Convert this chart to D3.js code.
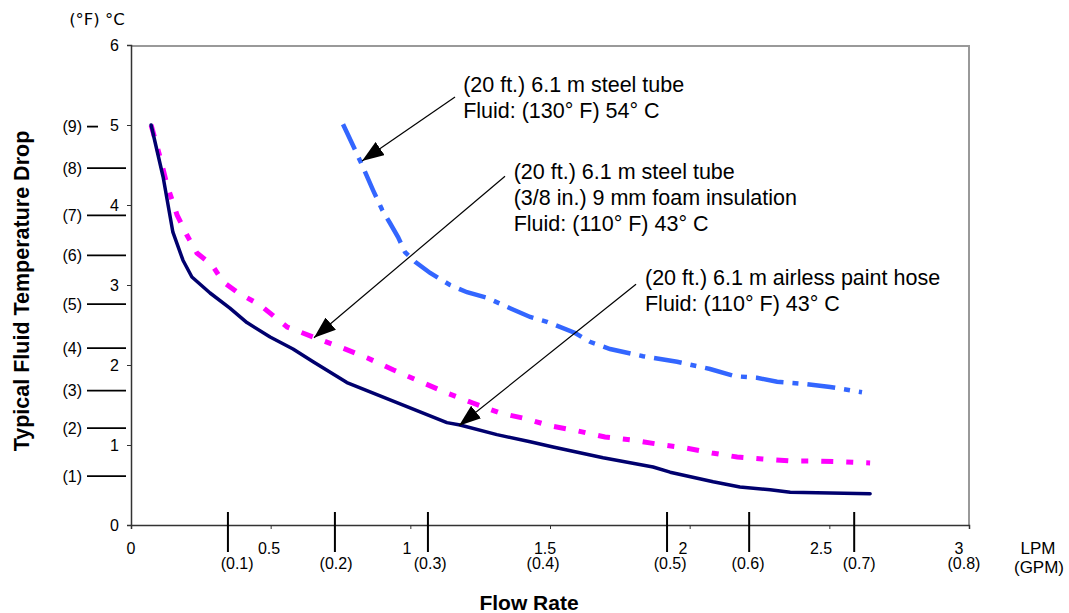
<!DOCTYPE html>
<html>
<head>
<meta charset="utf-8">
<script src="https://cdn.jsdelivr.net/npm/d3@7"></script>
<style>
  body { margin: 0; background: #fff; }
  text { fill: #000; }
  .tk { font-family: "Liberation Sans", Arial, sans-serif; font-size: 16px; }
</style>
</head>
<body>
<svg id="chart" width="1069" height="613"></svg>
<script>
// LPM flow rate vs temperature drop (deg C)
var hoseX = [0.072, 0.115, 0.150, 0.186, 0.218, 0.283, 0.354, 0.415, 0.498, 0.58, 0.652, 0.773, 0.952, 1.131, 1.178, 1.310, 1.429, 1.511, 1.690, 1.869, 1.930, 2.084, 2.18, 2.288, 2.36, 2.646];
var hoseY = [5.0, 4.35, 3.66, 3.31, 3.10, 2.90, 2.71, 2.53, 2.35, 2.20, 2.04, 1.78, 1.53, 1.28, 1.25, 1.13, 1.04, 0.975, 0.84, 0.725, 0.66, 0.54, 0.475, 0.44, 0.41, 0.39];

var foamX = [0.072, 0.104, 0.129, 0.165, 0.2, 0.236, 0.29, 0.33, 0.38, 0.462, 0.559, 0.652, 0.759, 0.845, 0.938, 1.024, 1.131, 1.224, 1.321, 1.418, 1.5, 1.6, 1.697, 1.797, 1.887, 1.991, 2.08, 2.17, 2.26, 2.36, 2.456, 2.549, 2.646];
var foamY = [5.0, 4.6, 4.25, 3.875, 3.625, 3.4, 3.25, 3.04, 2.91, 2.75, 2.475, 2.35, 2.21, 2.09, 1.94, 1.81, 1.65, 1.525, 1.40, 1.325, 1.24, 1.175, 1.10, 1.06, 1.01, 0.96, 0.90, 0.85, 0.825, 0.80, 0.80, 0.79, 0.775];

var steelX = [0.759, 0.802, 0.827, 0.866, 0.899, 0.927, 0.956, 0.981, 1.017, 1.071, 1.142, 1.203, 1.275, 1.357, 1.429, 1.489, 1.59, 1.643, 1.715, 1.833, 1.955, 2.073, 2.163, 2.241, 2.313, 2.42, 2.503, 2.617];
var steelY = [5.01, 4.69, 4.5, 4.19, 3.94, 3.775, 3.6, 3.41, 3.29, 3.15, 3.0, 2.91, 2.84, 2.71, 2.6, 2.54, 2.40, 2.29, 2.2, 2.11, 2.04, 1.95, 1.86, 1.84, 1.79, 1.76, 1.725, 1.66];

// axis ticks
var lpmTicks = [0, 0.5, 1, 1.5, 2, 2.5, 3];
var lpmLabels = ["0", "0.5", "1", "1.5", "2", "2.5", "3"];
var cTicks = [0, 1, 2, 3, 4, 5, 6];
var gpmLabels = ["(0.1)", "(0.2)", "(0.3)", "(0.4)", "(0.5)", "(0.6)", "(0.7)", "(0.8)"];
var gpmLabelAt = [0.38, 0.734, 1.071, 1.475, 1.93, 2.209, 2.607, 2.982];
var gpmTickAt = [0.347, 0.730, 1.063, 1.919, 2.213, 2.589];
var fLabels = ["(1)", "(2)", "(3)", "(4)", "(5)", "(6)", "(7)", "(8)", "(9)"];
var fTickC = [0.61, 1.21, 1.68, 2.21, 2.76, 3.37, 3.87, 4.46, 4.98];

// callouts
var noteLines = [
  ["(20 ft.) 6.1 m steel tube", "Fluid: (130\u00b0 F) 54\u00b0 C"],
  ["(20 ft.) 6.1 m steel tube", "(3/8 in.) 9 mm foam insulation", "Fluid: (110\u00b0 F) 43\u00b0 C"],
  ["(20 ft.) 6.1 m airless paint hose", "Fluid: (110\u00b0 F) 43\u00b0 C"]
];
var noteTextAt = [[1.189, 5.41], [1.37, 4.325], [1.84, 3.0]];
var noteFrom = [[1.16, 5.35], [1.339, 4.36], [1.808, 3.01]];
var noteTo = [[0.827, 4.55], [0.655, 2.34], [1.174, 1.24]];

var svg = d3.select("#chart");

var x = d3.scaleLinear().domain([0, 3]).range([131, 969]);
var y = d3.scaleLinear().domain([0, 6]).range([525, 45]);
// the printed LPM numbers sit a little left of their ticks
var xLabel = d3.scaleLinear().domain([0, 3]).range([131, 959]);

var textFont = "Liberation Sans, Arial, Helvetica, sans-serif";

// frame: grey top and right, dark axes
svg.append("line").attr("x1", x(0)).attr("x2", x(3)).attr("y1", y(6) + 1).attr("y2", y(6) + 1)
  .attr("stroke", "#999").attr("stroke-width", 2);
svg.append("line").attr("x1", x(3)).attr("x2", x(3)).attr("y1", y(6)).attr("y2", y(0))
  .attr("stroke", "#999").attr("stroke-width", 2);

var yAxis = d3.axisLeft(y).tickValues(cTicks).tickSize(4).tickFormat(d3.format("d"));
var yg = svg.append("g").attr("transform", "translate(" + x(0) + ",0)").call(yAxis);
yg.attr("font-family", null).attr("font-size", null);
yg.select(".domain").attr("stroke", "#333").attr("stroke-width", 1.5);
yg.selectAll(".tick line").attr("stroke", "#333");
yg.selectAll(".tick text").attr("class", "tk").attr("x", -12);

var xAxis = d3.axisBottom(x).tickValues(lpmTicks).tickSize(4).tickFormat("");
var xg = svg.append("g").attr("transform", "translate(0," + y(0) + ")").call(xAxis);
xg.select(".domain").attr("stroke", "#333").attr("stroke-width", 1.5);
xg.selectAll(".tick line").attr("stroke", "#333");

svg.selectAll(".lpmLabel").data(lpmTicks).enter().append("text")
  .attr("class", "tk")
  .attr("x", function(d) { return xLabel(d); })
  .attr("y", 554)
  .attr("text-anchor", "middle")
  .text(function(d, i) { return lpmLabels[i]; });

// GPM second scale
svg.selectAll(".gpmTick").data(gpmTickAt).enter().append("line")
  .attr("class", "gpmTick")
  .attr("x1", function(d) { return x(d); }).attr("x2", function(d) { return x(d); })
  .attr("y1", 512).attr("y2", 552)
  .attr("stroke", "#000").attr("stroke-width", 2);

svg.selectAll(".gpmLabel").data(gpmLabelAt).enter().append("text")
  .attr("class", "tk")
  .attr("x", function(d) { return x(d); })
  .attr("y", 569)
  .attr("text-anchor", "middle")
  .text(function(d, i) { return gpmLabels[i]; });

// Fahrenheit scale on the left
svg.selectAll(".fTick").data(fTickC).enter().append("line")
  .attr("class", "fTick")
  .attr("x1", 87)
  .attr("x2", function(d, i) { return i == 8 ? 98 : 126; })
  .attr("y1", function(d) { return y(d); }).attr("y2", function(d) { return y(d); })
  .attr("stroke", "#000").attr("stroke-width", 1.8);

svg.selectAll(".fLabel").data(fTickC).enter().append("text")
  .attr("class", "tk")
  .attr("x", 82)
  .attr("y", function(d) { return y(d); })
  .attr("dy", "0.35em")
  .attr("text-anchor", "end")
  .text(function(d, i) { return fLabels[i]; });

svg.append("text").attr("x", 97).attr("y", 25).attr("text-anchor", "middle")
  .attr("font-family", "DejaVu Sans, sans-serif").attr("font-size", 16.5).text("(\u00b0F) \u00b0C");

// axis titles
svg.append("text")
  .attr("transform", "translate(29,291) rotate(-90)")
  .attr("text-anchor", "middle")
  .attr("font-family", textFont).attr("font-size", 21.5).attr("font-weight", "bold")
  .text("Typical Fluid Temperature Drop");

svg.append("text").attr("x", 529).attr("y", 610).attr("text-anchor", "middle")
  .attr("font-family", textFont).attr("font-size", 21).attr("font-weight", "bold")
  .text("Flow Rate");

svg.append("text").attr("x", 1038).attr("y", 554).attr("text-anchor", "middle")
  .attr("font-family", textFont).attr("font-size", 17).text("LPM");
svg.append("text").attr("x", 1039).attr("y", 573).attr("text-anchor", "middle")
  .attr("font-family", textFont).attr("font-size", 17).text("(GPM)");

// curves
var line = d3.line()
  .x(function(d) { return x(d[0]); })
  .y(function(d) { return y(d[1]); })
  .curve(d3.curveLinear);

function pairs(xs, ys) {
  return xs.map(function(v, i) { return [v, ys[i]]; });
}

svg.append("path").datum(pairs(steelX, steelY))
  .attr("d", line).attr("fill", "none")
  .attr("stroke", "#3366ff").attr("stroke-width", 4.5)
  .attr("stroke-dasharray", "28,9,6,9");

svg.append("path").datum(pairs(foamX, foamY))
  .attr("d", line).attr("fill", "none")
  .attr("stroke", "#ff00ff").attr("stroke-width", 5)
  .attr("stroke-dasharray", "12,13,7,13");

svg.append("path").datum(pairs(hoseX, hoseY))
  .attr("d", line).attr("fill", "none")
  .attr("stroke", "#00006e").attr("stroke-width", 3.5)
  .attr("stroke-linejoin", "round").attr("stroke-linecap", "round");

// callouts with arrows
svg.append("defs").append("marker")
  .attr("id", "head")
  .attr("markerUnits", "userSpaceOnUse")
  .attr("markerWidth", 24).attr("markerHeight", 16)
  .attr("refX", 22).attr("refY", 8)
  .attr("orient", "auto")
  .append("path").attr("d", "M0,0 L22,8 L0,16 Z").attr("fill", "#000");

noteFrom.forEach(function(p, i) {
  svg.append("line")
    .attr("x1", x(p[0])).attr("y1", y(p[1]))
    .attr("x2", x(noteTo[i][0])).attr("y2", y(noteTo[i][1]))
    .attr("stroke", "#000").attr("stroke-width", 1.2)
    .attr("marker-end", "url(#head)");

  var t = svg.append("text")
    .attr("x", x(noteTextAt[i][0])).attr("y", y(noteTextAt[i][1]))
    .attr("font-family", textFont).attr("font-size", 21.5);
  noteLines[i].forEach(function(s, j) {
    t.append("tspan").attr("x", x(noteTextAt[i][0])).attr("dy", j == 0 ? 0 : 26).text(s);
  });
});
</script>
</body>
</html>
